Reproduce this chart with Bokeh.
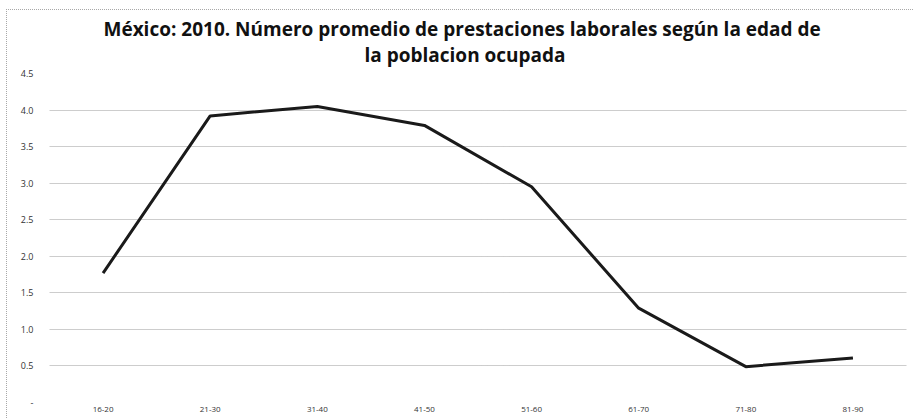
from bokeh.plotting import figure
from bokeh.models import FixedTicker, Range1d, FactorRange, Title
from bokeh.embed import file_html
from bokeh.resources import INLINE

# Data
age_groups = ["16-20", "21-30", "31-40", "41-50", "51-60", "61-70", "71-80", "81-90"]
avg_benefits = [1.77, 3.92, 4.05, 3.79, 2.95, 1.29, 0.49, 0.61]
ytick_values = [0, 0.5, 1.0, 1.5, 2.0, 2.5, 3.0, 3.5, 4.0, 4.5]
ytick_labels = ["-", "0.5", "1.0", "1.5", "2.0", "2.5", "3.0", "3.5", "4.0", "4.5"]
title_lines = ["México: 2010. Número promedio de prestaciones laborales según la edad de",
               "la poblacion ocupada"]

p = figure(width=907, height=409, x_range=FactorRange(*age_groups), y_range=Range1d(0, 4.5),
           output_backend="svg", toolbar_location=None, title=None,
           min_border_left=42, min_border_right=8, min_border_top=63, min_border_bottom=17)
p.x_range.range_padding = 0
p.background_fill_color = "white"
p.border_fill_color = "white"
p.outline_line_color = None

# two-line title (nearest line added first)
for line, standoff, off in ((title_lines[1], 12, 315), (title_lines[0], -16, 54)):
    p.add_layout(Title(text=line, align="left", offset=off, standoff=standoff,
                       text_font="Open Sans", text_font_style="bold", text_font_size="19px",
                       text_color="#111111", text_line_height=1.0), "above")

p.line(x=age_groups, y=avg_benefits, line_color="#1a1a1a", line_width=3)

p.xgrid.grid_line_color = None
p.ygrid.grid_line_color = "#9a9a9a"
p.ygrid.grid_line_dash = "1 1"
p.ygrid.grid_line_width = 1

p.yaxis.ticker = FixedTicker(ticks=ytick_values)
p.yaxis.major_label_overrides = {v: l for v, l in zip(ytick_values, ytick_labels)}
for ax in (p.xaxis, p.yaxis):
    ax.axis_line_color = None
    ax.major_tick_line_color = None
    ax.minor_tick_line_color = None
    ax.major_tick_out = 0
    ax.major_tick_in = 0
    ax.major_label_text_font = "Open Sans"
    ax.major_label_text_color = "#333333"
p.yaxis.major_label_text_font_size = "9px"
p.xaxis.major_label_text_font_size = "8px"
p.yaxis.major_label_standoff = 16
p.xaxis.major_label_standoff = 4

p.styles = {"margin-left": "6px", "margin-top": "9px",
            "border-left": "1px dotted #a8a8a8", "border-top": "1px dotted #a8a8a8",
            "box-sizing": "border-box"}

open("out.html", "w").write(file_html(p, INLINE))
